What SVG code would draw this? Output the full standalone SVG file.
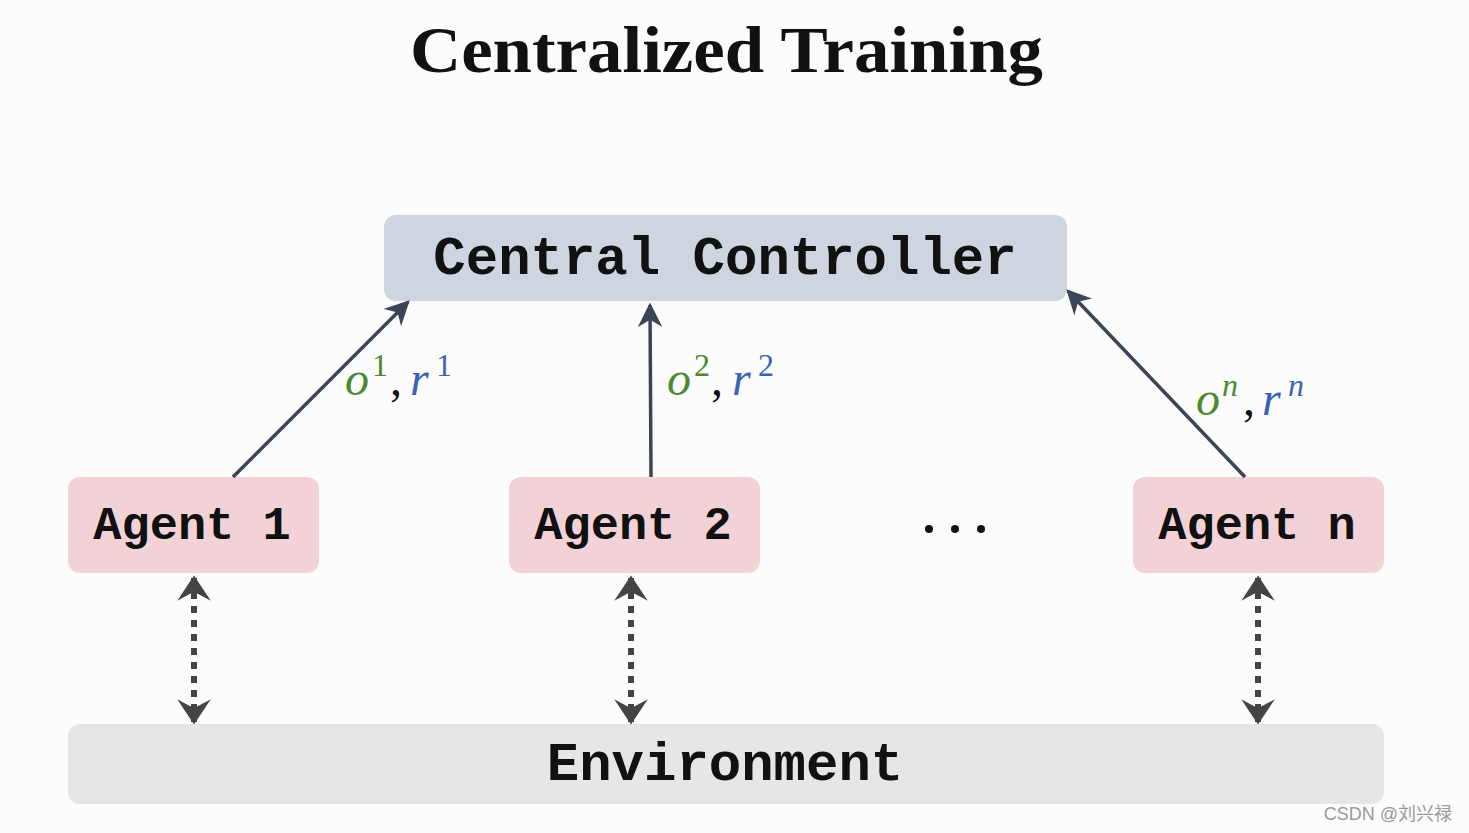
<svg xmlns="http://www.w3.org/2000/svg" width="1469" height="833" viewBox="0 0 1469 833">
<defs>
<style>
.mono{font-family:"Liberation Mono","DejaVu Sans Mono",monospace;font-weight:bold;fill:#111;}
.math{font-family:"Liberation Serif","DejaVu Serif",serif;font-style:italic;font-size:48px;}
.sup{font-style:normal;font-size:32px;}
.supi{font-style:italic;font-size:32px;}
.g{fill:#4a8a2c;}
.b{fill:#3a63b3;}
.k{fill:#111;font-style:normal;}
.up{stroke:#3c4556;stroke-width:3.5;fill:none;}
.env{stroke:#444;stroke-width:6;stroke-dasharray:7 7;fill:none;}
</style>
<marker id="ah" viewBox="0 0 10 10" refX="9" refY="5" markerWidth="7" markerHeight="7" markerUnits="strokeWidth" orient="auto"><path d="M0,0 L10,5 L0,10 L3,5 z" fill="#3c4556"/></marker>
<marker id="dh" viewBox="0 0 10 10" refX="9" refY="5" markerWidth="4.2" markerHeight="5.6" markerUnits="strokeWidth" orient="auto-start-reverse" preserveAspectRatio="none"><path d="M0,0 L10,5 L0,10 L3.5,5 z" fill="#444"/></marker>
</defs>
<rect width="1469" height="833" fill="#fdfcfd"/>
<text x="410" y="72" textLength="633" lengthAdjust="spacingAndGlyphs" font-family="Liberation Serif, DejaVu Serif, serif" font-weight="bold" font-size="66" fill="#111">Centralized Training</text>
<g id="controller">
<rect x="384" y="215" width="683" height="86" rx="12" fill="#cfd5e0"/>
<text class="mono" x="725" y="274" text-anchor="middle" font-size="54">Central Controller</text>
</g>
<g id="agent1">
<rect x="68" y="477" width="251" height="96" rx="12" fill="#f2d1d7"/>
<text class="mono" x="192" y="539" text-anchor="middle" font-size="47">Agent 1</text>
</g>
<g id="agent2">
<rect x="509" y="477" width="251" height="96" rx="12" fill="#f2d1d7"/>
<text class="mono" x="633" y="539" text-anchor="middle" font-size="47">Agent 2</text>
</g>
<g id="dots">
<circle cx="929" cy="529" r="4" fill="#111"/>
<circle cx="955" cy="529" r="4" fill="#111"/>
<circle cx="981" cy="529" r="4" fill="#111"/>
</g>
<g id="agentn">
<rect x="1133" y="477" width="251" height="96" rx="12" fill="#f2d1d7"/>
<text class="mono" x="1257" y="539" text-anchor="middle" font-size="47">Agent n</text>
</g>
<g id="environment">
<rect x="68" y="724" width="1316" height="80" rx="12" fill="#e6e6e6"/>
<text class="mono" x="725" y="780" text-anchor="middle" font-size="54">Environment</text>
</g>
<g id="connectors">
<line class="up" x1="233" y1="477" x2="408" y2="302" marker-end="url(#ah)"/>
<line class="up" x1="651" y1="477" x2="650" y2="305" marker-end="url(#ah)"/>
<line class="up" x1="1245" y1="477" x2="1068" y2="291" marker-end="url(#ah)"/>
<line class="env" x1="194" y1="578" x2="194" y2="722" marker-start="url(#dh)" marker-end="url(#dh)"/>
<line class="env" x1="631" y1="578" x2="631" y2="722" marker-start="url(#dh)" marker-end="url(#dh)"/>
<line class="env" x1="1258" y1="578" x2="1258" y2="722" marker-start="url(#dh)" marker-end="url(#dh)"/>
</g>
<g id="labels">
<text class="math"><tspan class="g" x="345" y="395">o</tspan><tspan class="g sup" x="372" y="376">1</tspan><tspan class="k" x="390" y="395">,</tspan><tspan class="b" x="410" y="395">r</tspan><tspan class="b sup" x="436" y="376">1</tspan></text>
<text class="math"><tspan class="g" x="667" y="395">o</tspan><tspan class="g sup" x="694" y="376">2</tspan><tspan class="k" x="711" y="395">,</tspan><tspan class="b" x="732" y="395">r</tspan><tspan class="b sup" x="758" y="376">2</tspan></text>
<text class="math"><tspan class="g" x="1196" y="415">o</tspan><tspan class="g supi" x="1222" y="396">n</tspan><tspan class="k" x="1243" y="415">,</tspan><tspan class="b" x="1262" y="415">r</tspan><tspan class="b supi" x="1288" y="396">n</tspan></text>
</g>
<text x="1452" y="820" text-anchor="end" font-family="Liberation Sans, Noto Sans CJK SC, sans-serif" font-size="18" fill="#999">CSDN @刘兴禄</text>
</svg>
